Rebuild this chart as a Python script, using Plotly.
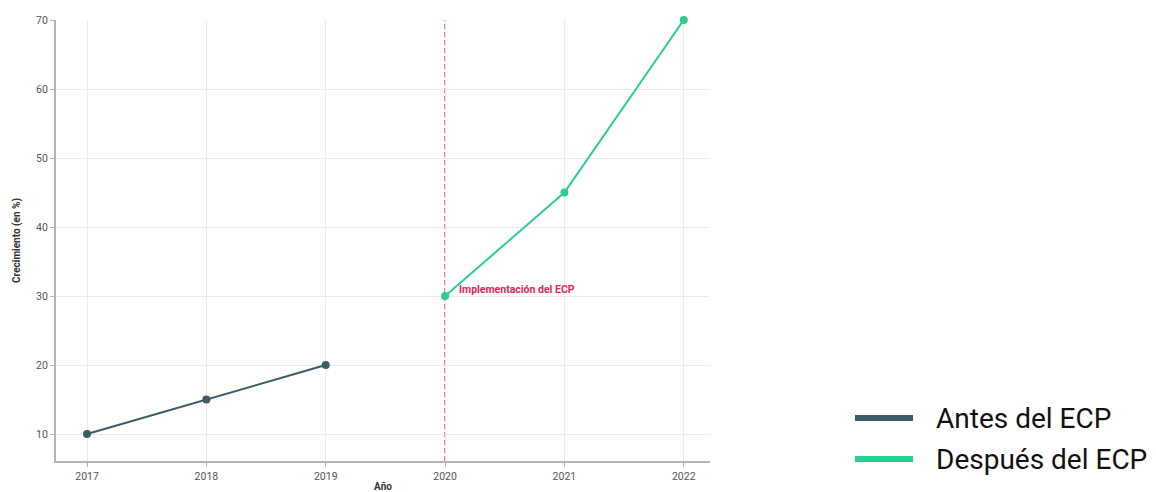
import plotly.graph_objects as go

# Growth before and after the ECP rollout
years_before = [2017, 2018, 2019]
growth_before = [10, 15, 20]
years_after = [2020, 2021, 2022]
growth_after = [30, 45, 70]
implementation_year = 2020
implementation_label = "Implementación del ECP"
series_names = ["Antes del ECP", "Después del ECP"]
tick_years = [2017, 2018, 2019, 2020, 2021, 2022]
tick_growth = [10, 20, 30, 40, 50, 60, 70]

DARK = "#3b5c66"
GREEN = "#2dcc8f"
RED = "#e0245e"
FONT = "Roboto"

fig = go.Figure()
fig.add_trace(go.Scatter(
    x=years_before, y=growth_before, mode="lines+markers", name=series_names[0],
    line=dict(color=DARK, width=2), marker=dict(color=DARK, size=8),
    showlegend=False, cliponaxis=False,
))
fig.add_trace(go.Scatter(
    x=years_after, y=growth_after, mode="lines+markers", name=series_names[1],
    line=dict(color=GREEN, width=2), marker=dict(color=GREEN, size=8),
    showlegend=False, cliponaxis=False,
))

# vertical marker for the implementation year
fig.add_shape(type="line", x0=implementation_year, x1=implementation_year,
              xref="x", yref="paper", y0=0, y1=1,
              line=dict(color=RED, width=1.3, dash="5px,3px"), layer="below")
fig.add_annotation(x=implementation_year, y=growth_after[0], xref="x", yref="y",
                   text="<b>" + implementation_label + "</b>", showarrow=False,
                   xanchor="left", yanchor="bottom", xshift=12, yshift=-2,
                   font=dict(family=FONT, size=10.5, color=RED))

# custom legend on the right
PLOT_L, PLOT_R = 56, 710
PLOT_T, PLOT_B = 20, 461
W = PLOT_R - PLOT_L
def px(xp):
    return (xp - PLOT_L) / W

legend_rows = [(series_names[0], DARK, 418), (series_names[1], GREEN, 459)]
for name, color, ypix in legend_rows:
    yp = 1 - (ypix - PLOT_T) / (PLOT_B - PLOT_T)
    fig.add_shape(type="line", xref="paper", yref="paper",
                  x0=px(855), x1=px(913), y0=yp, y1=yp,
                  line=dict(color=color, width=6))
    fig.add_annotation(xref="paper", yref="paper", x=px(934), y=yp, text=name,
                       showarrow=False, xanchor="left", yanchor="middle",
                       font=dict(family=FONT, size=28, color="#111111"))

axis_common = dict(
    showgrid=True, gridcolor="#ebebeb", gridwidth=1,
    showline=True, linecolor="#b3b3b3", linewidth=2,
    ticks="outside", ticklen=4, tickcolor="#b3b3b3",
    tickfont=dict(family=FONT, size=10.5, color="#555555"),
    zeroline=False, automargin=False,
)
fig.update_xaxes(range=[2016.74, 2022.22], tickvals=tick_years,
                 title=dict(text="<b>Año</b>", font=dict(family=FONT, size=10, color="#333333"), standoff=2),
                 **axis_common)
fig.update_yaxes(range=[6.1, 70], tickvals=tick_growth,
                 title=dict(text="<b>Crecimiento (en %)</b>", font=dict(family=FONT, size=10, color="#333333"), standoff=14),
                 **axis_common)

fig.update_layout(
    width=1156, height=492,
    margin=dict(l=PLOT_L, r=1156 - PLOT_R, t=PLOT_T, b=492 - PLOT_B),
    plot_bgcolor="white", paper_bgcolor="white",
    font=dict(family=FONT),
    showlegend=False,
)
fig.write_html("out.html")
